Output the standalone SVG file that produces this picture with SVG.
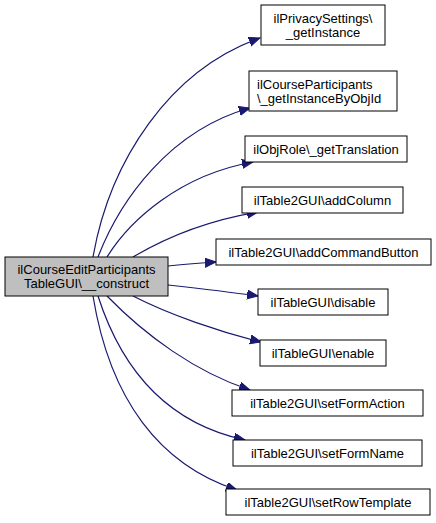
<svg xmlns="http://www.w3.org/2000/svg" width="436" height="523" viewBox="0 0 436 523">
<style>
.node rect{fill:#ffffff;stroke:#000000;stroke-width:1}
.main rect{fill:#bfbfbf}
text{font-family:"Liberation Sans",Arial,sans-serif;font-size:13px;fill:#000000;text-anchor:middle}
.edges path{fill:none;stroke:#191970;stroke-width:1.2}
</style>
<defs>
<marker id="arr" markerUnits="userSpaceOnUse" markerWidth="12" markerHeight="10" refX="11" refY="4.5" orient="auto">
<path d="M0,0 L11,4.5 L0,9 Z" fill="#191970" stroke="#191970" stroke-width="1"/>
</marker>
</defs>
<g class="edges">
<path marker-end="url(#arr)" d="M93,257 C110,160 170,70 260,38"/>
<path marker-end="url(#arr)" d="M98,257 C120,200 170,130 250,108"/>
<path marker-end="url(#arr)" d="M107,257 C130,220 180,175 253,162"/>
<path marker-end="url(#arr)" d="M133,257 C170,235 210,220 258,212"/>
<path marker-end="url(#arr)" d="M168,266 C185,264 200,263 216,262"/>
<path marker-end="url(#arr)" d="M168,285 C195,288 230,292 258,296"/>
<path marker-end="url(#arr)" d="M133,296 C170,315 220,332 261,342"/>
<path marker-end="url(#arr)" d="M107,296 C145,335 195,372 250,390"/>
<path marker-end="url(#arr)" d="M98,296 C125,380 175,425 245,440"/>
<path marker-end="url(#arr)" d="M93,296 C110,400 160,465 237,490"/>
</g>
<g id="main" class="node main"><rect x="5" y="257" width="163" height="39"/><text x="86.5" y="274">ilCourseEditParticipants</text><text x="86.5" y="288">TableGUI\__construct</text></g>
<g id="n1" class="node"><rect x="261" y="5" width="124" height="40"/><text x="323" y="23">ilPrivacySettings\</text><text x="323" y="37">_getInstance</text></g>
<g id="n2" class="node"><rect x="249" y="71" width="148" height="40"/><text x="257" y="89" style="text-anchor:start">ilCourseParticipants</text><text x="257" y="103" style="text-anchor:start">\_getInstanceByObjId</text></g>
<g id="n3" class="node"><rect x="245" y="136" width="162" height="26"/><text x="326" y="153.5">ilObjRole\_getTranslation</text></g>
<g id="n4" class="node"><rect x="242" y="187" width="161" height="26"/><text x="322.5" y="204.5">ilTable2GUI\addColumn</text></g>
<g id="n5" class="node"><rect x="216" y="239" width="215" height="26"/><text x="323.5" y="256.5">ilTable2GUI\addCommandButton</text></g>
<g id="n6" class="node"><rect x="258" y="289" width="130" height="26"/><text x="323" y="306.5">ilTableGUI\disable</text></g>
<g id="n7" class="node"><rect x="260" y="340" width="126" height="26"/><text x="323" y="357.5">ilTableGUI\enable</text></g>
<g id="n8" class="node"><rect x="232" y="390" width="191" height="26"/><text x="327.5" y="407.5">ilTable2GUI\setFormAction</text></g>
<g id="n9" class="node"><rect x="233" y="440" width="189" height="26"/><text x="327.5" y="457.5">ilTable2GUI\setFormName</text></g>
<g id="n10" class="node"><rect x="226" y="489" width="204" height="26"/><text x="328" y="506.5">ilTable2GUI\setRowTemplate</text></g>
</svg>
